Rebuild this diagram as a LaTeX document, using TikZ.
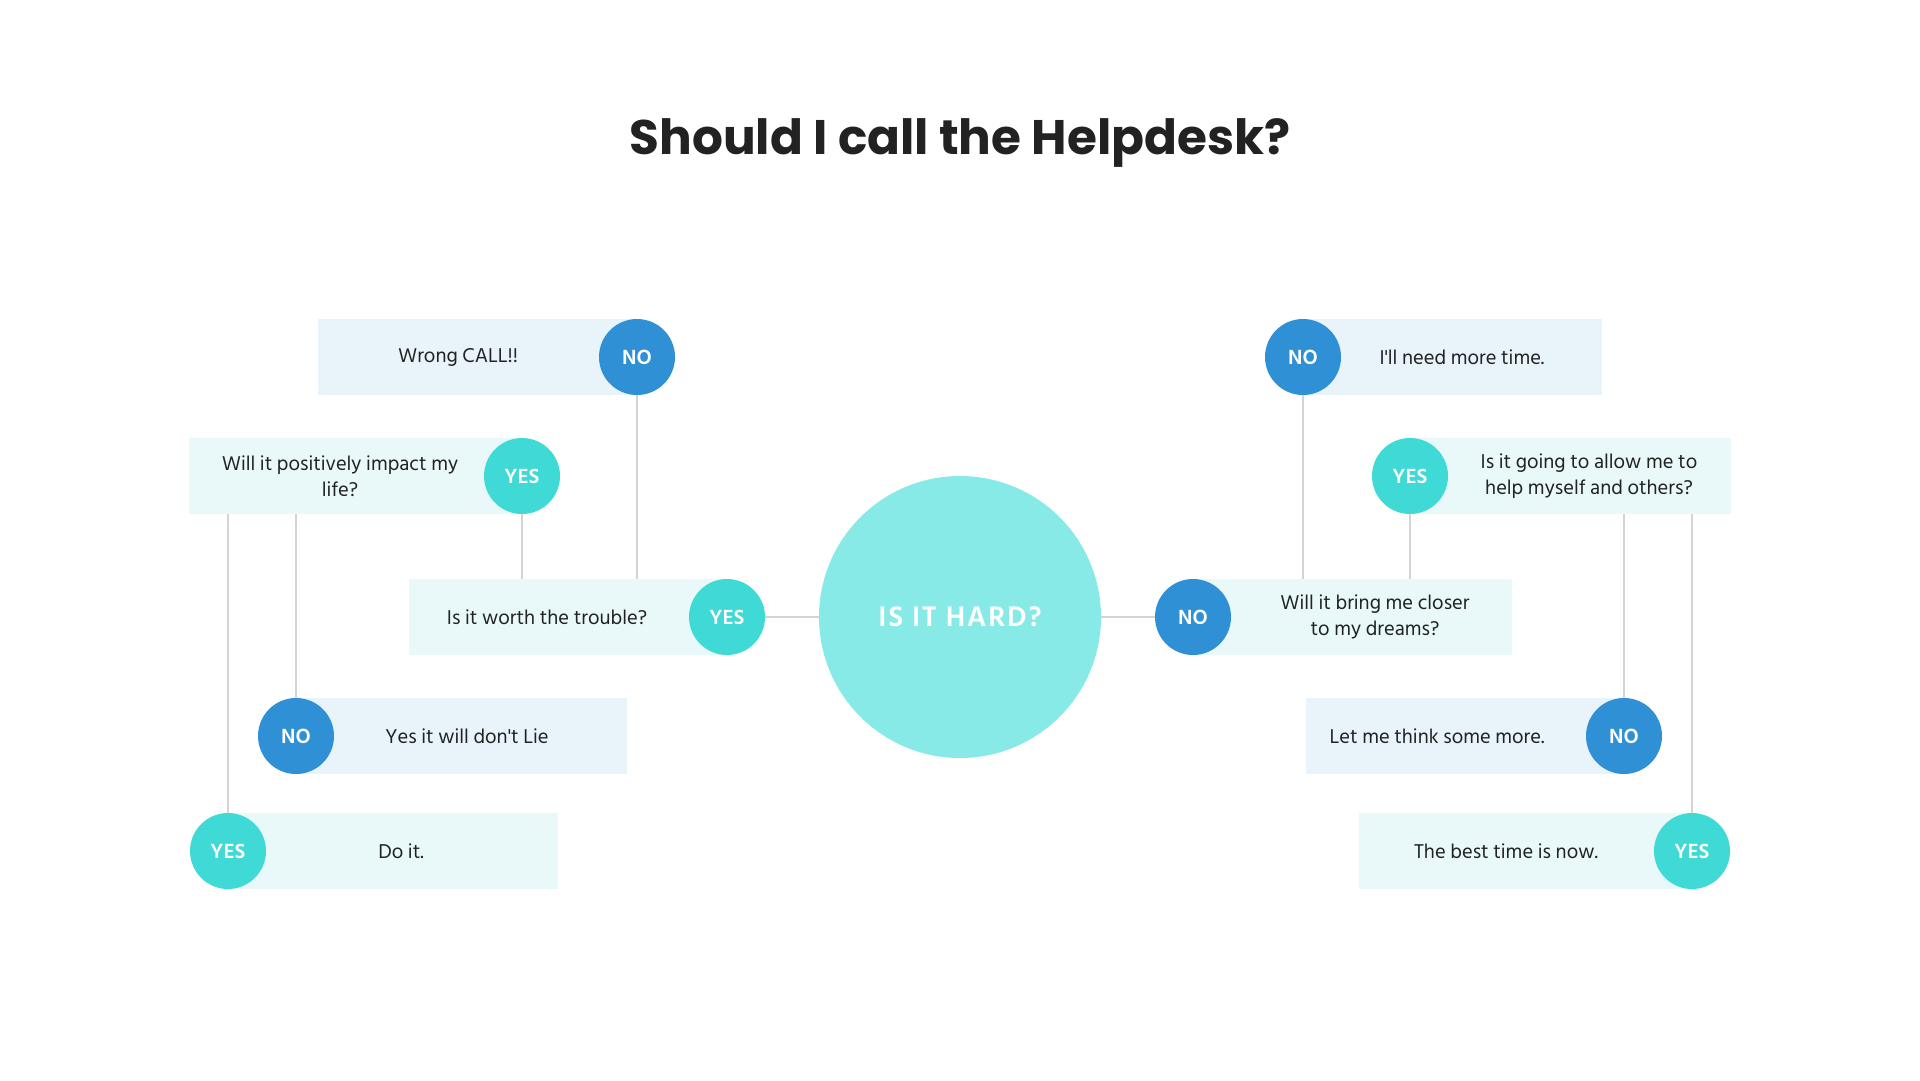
\documentclass[tikz,border=0pt]{standalone}
\usepackage{fontspec}
\setmainfont{Hind Siliguri}
\newfontfamily\titlefont{Poppins}
\usetikzlibrary{calc}
\definecolor{noblue}{HTML}{2F90D5}
\definecolor{yesteal}{HTML}{3FD9D6}
\definecolor{hardcyan}{HTML}{88EAE7}
\definecolor{noboxfill}{HTML}{E8F3FA}
\definecolor{yesboxfill}{HTML}{E9F9FA}
\definecolor{linegray}{HTML}{D4D4D4}
\definecolor{ink}{HTML}{222222}
\newcommand{\apos}{\textquotesingle}
\tikzset{dot/.style={circle, minimum size=76pt, inner sep=0pt, outer sep=0pt, text=white, font=\fontsize{21}{21}\selectfont\bfseries},
	yesdot/.style={dot, fill=yesteal},
	nodot/.style={dot, fill=noblue},
	qbox/.style={rectangle, minimum height=76pt, inner sep=0pt, outer sep=0pt},
	yesbox/.style={qbox, fill=yesboxfill},
	nobox/.style={qbox, fill=noboxfill},
	qtxt/.style={text=ink, font=\fontsize{20.5}{26}\selectfont, align=center, inner sep=0pt},
	link/.style={draw=linegray, line width=1.5pt}}

\begin{document}
\begin{tikzpicture}[x=1pt, y=-1pt]
		\fill[white] (0,0) rectangle (1920,1080);
		\useasboundingbox (0,0) rectangle (1920,1080);
		
		\node[anchor=base, text=ink, font=\titlefont\bfseries\fontsize{48.5}{58}\selectfont] (title) at (960,154) {Should I call the Helpdesk?};
		
		\node[circle, fill=hardcyan, minimum size=282pt, inner sep=0pt, text=white, font=\fontsize{29}{29}\selectfont\bfseries\addfontfeatures{LetterSpace=6}] (hard) at (960,617) {IS IT HARD?};
		
		\node[nobox, minimum width=319pt] (wrongbox) at (477.5,357) {};
		\node[qtxt] (wrongtxt) at (458,357) {Wrong CALL!!};
		\node[nodot] (wrongno) at (637,357) {NO};
		
		\node[yesbox, minimum width=333pt] (posbox) at (355.5,476) {};
		\node[qtxt] (postxt) at (340,476) {Will it positively impact my\\life?};
		\node[yesdot] (posyes) at (522,476) {YES};
		
		\node[yesbox, minimum width=318pt] (worthbox) at (568,617) {};
		\node[qtxt] (worthtxt) at (547,617) {Is it worth the trouble?};
		\node[yesdot] (worthyes) at (727,617) {YES};
		
		\node[nobox, minimum width=331pt] (liebox) at (461.5,736) {};
		\node[qtxt] (lietxt) at (467,736) {Yes it will don\apos t Lie};
		\node[nodot] (lieno) at (296,736) {NO};
		
		\node[yesbox, minimum width=330pt] (doitbox) at (393,851) {};
		\node[qtxt] (doittxt) at (401,851) {Do it.};
		\node[yesdot] (doityes) at (228,851) {YES};
		
		\node[nobox, minimum width=299pt] (timebox) at (1452.5,357) {};
		\node[qtxt] (timetxt) at (1462,357) {I\apos ll need more time.};
		\node[nodot] (timeno) at (1303,357) {NO};
		
		\node[yesbox, minimum width=321pt] (goingbox) at (1570.5,476) {};
		\node[qtxt] (goingtxt) at (1589,476) {Is it going to allow me to\\help myself and others?};
		\node[yesdot] (goingyes) at (1410,476) {YES};
		
		\node[yesbox, minimum width=319pt] (closerbox) at (1352.5,617) {};
		\node[qtxt] (closertxt) at (1375,617) {Will it bring me closer\\to my dreams?};
		\node[nodot] (closerno) at (1193,617) {NO};
		
		\node[nobox, minimum width=318pt] (thinkbox) at (1465,736) {};
		\node[qtxt] (thinktxt) at (1437,736) {Let me think some more.};
		\node[nodot] (thinkno) at (1624,736) {NO};
		
		\node[yesbox, minimum width=333pt] (bestbox) at (1525.5,851) {};
		\node[qtxt] (besttxt) at (1506,851) {The best time is now.};
		\node[yesdot] (bestyes) at (1692,851) {YES};
		
		\draw[link] (worthyes) -- (hard);
		\draw[link] (hard) -- (closerno);
		\draw[link] (wrongno.south) -- (wrongno |- worthbox.north);
		\draw[link] (posyes.south) -- (posyes |- worthbox.north);
		\draw[link] (lieno.north) -- (lieno |- posbox.south);
		\draw[link] (doityes.north) -- (doityes |- posbox.south);
		\draw[link] (timeno.south) -- (timeno |- closerbox.north);
		\draw[link] (goingyes.south) -- (goingyes |- closerbox.north);
		\draw[link] (thinkno.north) -- (thinkno |- goingbox.south);
		\draw[link] (bestyes.north) -- (bestyes |- goingbox.south);
\end{tikzpicture}
\end{document}
